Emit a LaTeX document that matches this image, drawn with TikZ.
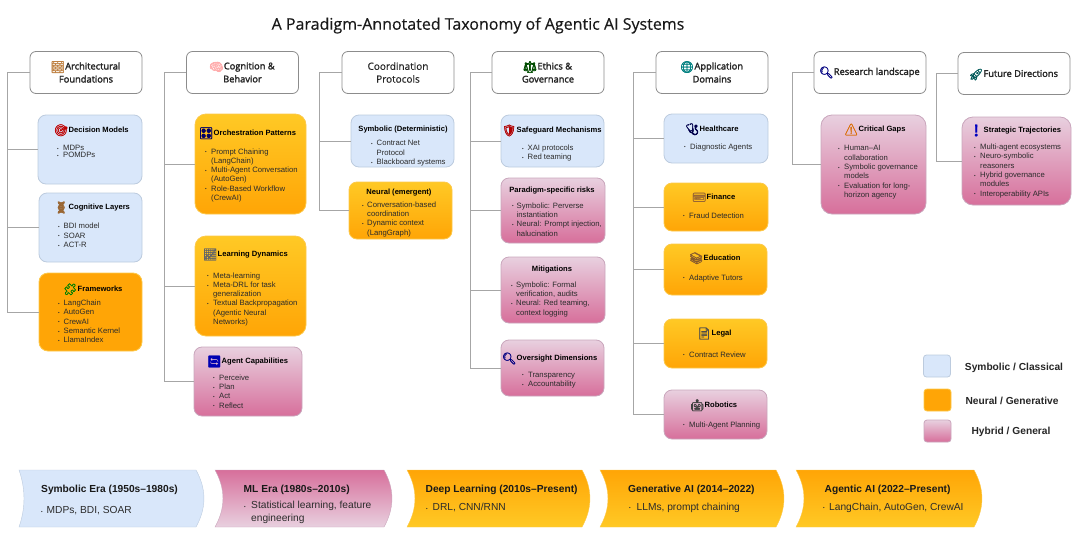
\documentclass[tikz,border=0pt]{standalone}
\usepackage{fontspec}
\setmainfont{Liberation Sans}
\newfontfamily\headfont[FakeBold=2.2]{Open Sans}
\newfontfamily\plainhead[FakeBold=0.4]{Open Sans}
\newfontfamily\emojifont[FakeBold=2]{Noto Emoji}
\definecolor{blueFill}{HTML}{D9E7FA}
\definecolor{blueEdge}{HTML}{BCCBDE}
\definecolor{goldTop}{HTML}{FFC925}
\definecolor{goldBot}{HTML}{FFA506}
\definecolor{goldEdge}{HTML}{FCC84A}
\definecolor{pinkTop}{HTML}{E8D0DF}
\definecolor{pinkBot}{HTML}{D76F9B}
\definecolor{pinkEdge}{HTML}{C9A6BC}
\definecolor{treeGray}{HTML}{A6A6A6}
\definecolor{inkText}{HTML}{2B2B2B}
\newcommand{\icon}[2]{\makebox[12pt][c]{\smash{\raisebox{-1.5pt}{\fontsize{11.5}{11.5}\selectfont\emojifont\color{#1}#2}}}\hspace{1.5pt}}
\newcommand{\bul}[1]{\makebox[#1pt][l]{\raisebox{0.3pt}{\fontsize{4.5}{4.5}\selectfont\textbullet}}}
\newcommand{\eraband}[4]{%
	\path[#4] (#1,470) .. controls (#1+1.33*#3,489) and (#1+1.33*#3,508) .. (#1,527)
		-- (#2,527) .. controls (#2+10.6,508) and (#2+10.6,489) .. (#2,470) -- cycle;
}
\tikzset{
	treeline/.style={draw=treeGray, line width=1pt},
	headbox/.style={draw=black!45, line width=0.8pt, fill=white, rounded corners=6pt, minimum width=112pt, minimum height=42pt, align=center, inner sep=0pt, text=black!85, font=\fontsize{9.3}{13}\selectfont\headfont},
	bluebox/.style={draw=blueEdge, line width=0.8pt, fill=blueFill, rounded corners=8pt, inner sep=0pt},
	goldbox/.style={draw=goldEdge, line width=0.8pt, top color=goldTop, bottom color=goldBot, rounded corners=8pt, inner sep=0pt},
	flatbox/.style={draw=goldEdge, line width=0.8pt, fill=goldBot, rounded corners=9pt, inner sep=0pt},
	pinkbox/.style={draw=pinkEdge, line width=0.8pt, top color=pinkTop, bottom color=pinkBot, rounded corners=8pt, inner sep=0pt},
	boxtitle/.style={anchor=west, inner sep=0pt, text=black, font=\fontsize{7.6}{9}\selectfont\bfseries},
	boxcentre/.style={boxtitle, anchor=center},
	itemlist/.style={anchor=west, inner sep=0pt, yshift=-1.3pt, align=left, text=inkText, font=\fontsize{7.7}{9.3}\selectfont},
	eratitle/.style={anchor=west, inner sep=0pt, text=black!90, font=\fontsize{10.2}{12}\selectfont\bfseries},
	eraitem/.style={anchor=west, inner sep=0pt, align=left, text=inkText, font=\fontsize{10.2}{13}\selectfont},
	legendtext/.style={anchor=center, inner sep=0pt, text=black!85, font=\fontsize{10.2}{12}\selectfont\bfseries}
}
\begin{document}
\begin{tikzpicture}[x=1pt,y=-1pt]
	\useasboundingbox (0,0) rectangle (1080,536);
	\node[inner sep=0pt, text=black!90, font=\fontsize{16}{20}\selectfont\plainhead] (mainTitle) at (478,25.5) {A Paradigm-Annotated Taxonomy of Agentic AI Systems};

	% column headers
	\node[headbox] (arch) at (86,72.5) {\icon{brown}{🧱}Architectural\\Foundations};
	\node[headbox] (cog) at (242.5,72.5) {\icon{pink!90!red}{🧠}Cognition \&\\Behavior};
	\node[headbox, font=\fontsize{10}{12.8}\selectfont\plainhead] (coord) at (398,72.5) {Coordination\\Protocols};
	\node[headbox] (ethics) at (548,72.5) {\icon{black!70!green}{⚖}Ethics \&\\Governance};
	\node[headbox] (app) at (712,72.5) {\icon{teal}{🌐}Application\\Domains};
	\node[headbox] (research) at (870,72.5) {\icon{blue!50!black}{🔍}Research landscape};
	\node[headbox] (future) at (1014,73.5) {\icon{teal!70!black}{🚀}Future Directions};

	% Architectural Foundations
	\node[bluebox, minimum width=104pt, minimum height=69pt] (decision) at (90,149.5) {};
	\node[boxtitle] (decisionT) at (55,130) {\icon{red!75!black}{🎯}Decision Models};
	\node[itemlist, font=\fontsize{7.7}{7}\selectfont] (decisionL) at (57,150.2) {\bul{6}MDPs\\\bul{6}POMDPs};
	\node[bluebox, minimum width=103pt, minimum height=69pt] (layers) at (90.5,227.5) {};
	\node[boxtitle] (layersT) at (55,208) {\icon{brown!80!black}{🧬}Cognitive Layers};
	\node[itemlist] (layersL) at (58,234) {\bul{5.5}BDI model\\\bul{5.5}SOAR\\\bul{5.5}ACT-R};
	\node[flatbox, minimum width=103pt, minimum height=78pt] (frame) at (90.5,312) {};
	\node[boxtitle] (frameT) at (64,289) {\icon{green!50!black}{🧩}Frameworks};
	\node[itemlist] (frameL) at (58,320) {\bul{5.5}LangChain\\\bul{5.5}AutoGen\\\bul{5.5}CrewAI\\\bul{5.5}Semantic Kernel\\\bul{5.5}LlamaIndex};

	% Cognition & Behavior
	\node[goldbox, rounded corners=11pt, minimum width=111pt, minimum height=100pt] (orch) at (250.5,164) {};
	\node[boxtitle] (orchT) at (200,133) {\icon{blue!40!black}{🎛}Orchestration Patterns};
	\node[itemlist] (orchL) at (205,174) {\bul{6}Prompt Chaining\\\hspace{6pt}(LangChain)\\\bul{6}Multi-Agent Conversation\\\hspace{6pt}(AutoGen)\\\bul{6}Role-Based Workflow\\\hspace{6pt}(CrewAI)};
	\node[goldbox, rounded corners=11pt, minimum width=111pt, minimum height=100pt] (learn) at (250.5,286) {};
	\node[boxtitle] (learnT) at (204,255) {\icon{black!60}{📈}Learning Dynamics};
	\node[itemlist] (learnL) at (207,298) {\bul{6}Meta-learning\\\bul{6}Meta-DRL for task\\\hspace{6pt}generalization\\\bul{6}Textual Backpropagation\\\hspace{6pt}(Agentic Neural\\\hspace{6pt}Networks)};
	\node[pinkbox, minimum width=108pt, minimum height=69pt] (capab) at (248,381.5) {};
	\node[boxtitle] (capabT) at (208,362) {\icon{blue!70!black}{🔄}Agent Capabilities};
	\node[itemlist] (capabL) at (213,390) {\bul{6}Perceive\\\bul{6}Plan\\\bul{6}Act\\\bul{6}Reflect};

	% Coordination Protocols
	\node[bluebox, minimum width=103pt, minimum height=52pt] (symb) at (402.5,141) {};
	\node[boxcentre] (symbT) at (403,130) {Symbolic (Deterministic)};
	\node[itemlist] (symbL) at (371,152) {\bul{5.5}Contract Net\\\hspace{5.5pt}Protocol\\\bul{5.5}Blackboard systems};
	\node[goldbox, minimum width=103pt, minimum height=57pt] (neur) at (400.5,210.5) {};
	\node[boxcentre] (neurT) at (399,193) {Neural (emergent)};
	\node[itemlist] (neurL) at (362,218) {\bul{5}Conversation-based\\\hspace{5pt}coordination\\\bul{5}Dynamic context\\\hspace{5pt}(LangGraph)};

	% Ethics & Governance
	\node[bluebox, minimum width=103pt, minimum height=52pt] (safe) at (552.5,141) {};
	\node[boxtitle] (safeT) at (503,131) {\icon{red!70!black}{🛡}Safeguard Mechanisms};
	\node[itemlist] (safeL) at (522,152) {\bul{5.5}XAI protocols\\\bul{5.5}Red teaming};
	\node[pinkbox, minimum width=104pt, minimum height=65pt] (risks) at (553,210.5) {};
	\node[boxcentre] (risksT) at (552,191) {Paradigm-specific risks};
	\node[itemlist] (risksL) at (512,218) {\bul{4.5}Symbolic: Perverse\\\hspace{4.5pt}instantiation\\\bul{4.5}Neural: Prompt injection,\\\hspace{4.5pt}halucination};
	\node[pinkbox, minimum width=104pt, minimum height=66pt] (mitig) at (553,290) {};
	\node[boxcentre] (mitigT) at (552,270) {Mitigations};
	\node[itemlist] (mitigL) at (511,298) {\bul{5}Symbolic: Formal\\\hspace{5pt}verification, audits\\\bul{5}Neural: Red teaming,\\\hspace{5pt}context logging};
	\node[pinkbox, minimum width=103pt, minimum height=56pt] (overs) at (552.5,368) {};
	\node[boxtitle] (oversT) at (503,359) {\icon{blue!50!black}{🔍}Oversight Dimensions};
	\node[itemlist] (oversL) at (522,378.5) {\bul{6}Transparency\\\bul{6}Accountability};

	% Application Domains
	\node[bluebox, minimum width=104pt, minimum height=49pt] (health) at (716,138.5) {};
	\node[boxtitle] (healthT) at (686,129) {\icon{blue!30!black}{🩺}Healthcare};
	\node[itemlist] (healthL) at (684,146) {\bul{6}Diagnostic Agents};
	\node[goldbox, minimum width=104pt, minimum height=48pt] (fin) at (716,207) {};
	\node[boxtitle] (finT) at (693,197) {\icon{brown!80!black}{💳}Finance};
	\node[itemlist] (finL) at (683,214) {\bul{6}Fraud Detection};
	\node[goldbox, minimum width=103pt, minimum height=51pt] (edu) at (715.5,269.5) {};
	\node[boxtitle] (eduT) at (690,258) {\icon{brown!70!black}{📚}Education};
	\node[itemlist] (eduL) at (683,277) {\bul{6}Adaptive Tutors};
	\node[goldbox, minimum width=103pt, minimum height=49pt] (legal) at (715.5,343.5) {};
	\node[boxtitle] (legalT) at (698,334) {\icon{black!70}{📄}Legal};
	\node[itemlist] (legalL) at (683,353) {\bul{6}Contract Review};
	\node[pinkbox, minimum width=103pt, minimum height=49pt] (robot) at (715.5,414.5) {};
	\node[boxtitle] (robotT) at (691,405) {\icon{black!75}{🤖}Robotics};
	\node[itemlist] (robotL) at (683,424) {\bul{6}Multi-Agent Planning};

	% Research landscape and Future Directions
	\node[pinkbox, rounded corners=11pt, minimum width=105pt, minimum height=99pt] (gaps) at (873.5,164.5) {};
	\node[boxtitle] (gapsT) at (845,130) {\icon{orange!85!black}{⚠}Critical Gaps};
	\node[itemlist] (gapsL) at (838,171) {\bul{6}Human--AI\\\hspace{6pt}collaboration\\\bul{6}Symbolic governance\\\hspace{6pt}models\\\bul{6}Evaluation for long-\\\hspace{6pt}horizon agency};
	\node[pinkbox, rounded corners=11pt, minimum width=109pt, minimum height=88pt] (traj) at (1016.5,161) {};
	\node[boxtitle] (trajT) at (970,131) {\icon{blue!75!black}{❗}Strategic Trajectories};
	\node[itemlist] (trajL) at (974,169.5) {\bul{6}Multi-agent ecosystems\\\bul{6}Neuro-symbolic\\\hspace{6pt}reasoners\\\bul{6}Hybrid governance\\\hspace{6pt}modules\\\bul{6}Interoperability APIs};

	% tree lines
	\foreach \leaf in {decision,layers,frame}{
		\draw[treeline] (arch.west) -- ++(-22,0) |- (\leaf.west);
	}
	\foreach \leaf in {orch,learn,capab}{
		\draw[treeline] (cog.west) -- ++(-21.5,0) |- (\leaf.west);
	}
	\foreach \leaf in {symb,neur}{
		\draw[treeline] (coord.west) -- ++(-22,0) |- (\leaf.west);
	}
	\foreach \leaf in {safe,risks,mitig,overs}{
		\draw[treeline] (ethics.west) -- ++(-21,0) |- (\leaf.west);
	}
	\foreach \leaf in {health,fin,edu,legal,robot}{
		\draw[treeline] (app.west) -- ++(-22,0) |- (\leaf.west);
	}
	\draw[treeline] (research.west) -- ++(-21,0) |- (gaps.west);
	\draw[treeline] (future.west) -- ++(-21,0) |- (traj.west);

	% legend
	\node[bluebox, rounded corners=3pt, minimum width=27pt, minimum height=22pt] (legendBlue) at (937,366) {};
	\node[flatbox, rounded corners=3pt, minimum width=27pt, minimum height=22pt] (legendGold) at (937.5,400) {};
	\node[pinkbox, rounded corners=3pt, minimum width=27pt, minimum height=22pt] (legendPink) at (937.5,431) {};
	\node[legendtext] (legendBlueT) at (1014,368) {Symbolic / Classical};
	\node[legendtext] (legendGoldT) at (1012,400.5) {Neural / Generative};
	\node[legendtext] (legendPinkT) at (1011,431.5) {Hybrid / General};

	% timeline
	\eraband{19}{196}{5}{draw=blueEdge, fill=blueFill}
	\eraband{215}{384}{8}{draw=pinkEdge, top color=pinkBot, bottom color=pinkTop}
	\eraband{407}{582}{8}{draw=goldEdge, top color=goldBot, bottom color=goldTop}
	\eraband{600}{776}{8}{draw=goldEdge, top color=goldBot, bottom color=goldTop}
	\eraband{796}{974}{8}{draw=goldEdge, top color=goldBot, bottom color=goldTop}
	\node[eratitle] (eraSymbT) at (41,490) {Symbolic Era (1950s--1980s)};
	\node[eraitem] (eraSymbL) at (41,511) {\bul{5.5}MDPs, BDI, SOAR};
	\node[eratitle] (eraMlT) at (243.5,490) {ML Era (1980s--2010s)};
	\node[eraitem] (eraMlL) at (244,512.5) {\bul{7}Statistical learning, feature\\\hspace{7pt}engineering};
	\node[eratitle] (eraDeepT) at (425.5,490) {Deep Learning (2010s--Present)};
	\node[eraitem] (eraDeepL) at (426,507.5) {\bul{6.5}DRL, CNN/RNN};
	\node[eratitle] (eraGenT) at (628,490) {Generative AI (2014--2022)};
	\node[eraitem] (eraGenL) at (629,507.5) {\bul{7.5}LLMs, prompt chaining};
	\node[eratitle] (eraAgentT) at (824.5,490) {Agentic AI (2022--Present)};
	\node[eraitem] (eraAgentL) at (823,507.5) {\bul{6}LangChain, AutoGen, CrewAI};
\end{tikzpicture}
\end{document}
